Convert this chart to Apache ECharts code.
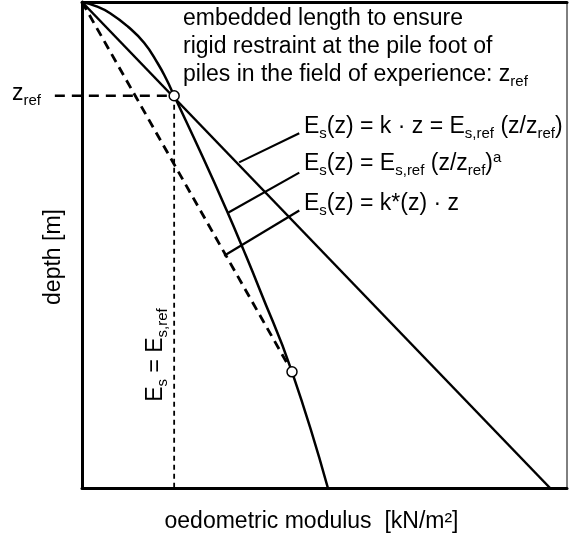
<!DOCTYPE html>
<html>
<head>
<meta charset="utf-8">
<script src="https://cdn.jsdelivr.net/npm/echarts@6/dist/echarts.min.js"></script>
<style>
  html, body { margin: 0; padding: 0; background: #fff; }
  #main { width: 569px; height: 540px; }
</style>
</head>
<body>
<div id="main"></div>
<script>
// axes run 0..100 in both directions (schematic, no ticks)
var straightLine = [[0, 0], [96.5, 100]];                 // Es = k * z
var powerCurve = [[0, 0], [3.0, 0.9], [5.8, 2.3], [9.5, 5.1], [12.8, 8.4], [15.6, 12.6],
                  [17.4, 15.9], [19.0, 19.3], [24.9, 31.9], [29.8, 42.8], [33.3, 51.0],
                  [36.7, 59.3], [43.3, 76.1], [50.7, 100]]; // Es,ref (z/zref)^a
var dashedLine = [[0, 0], [43.3, 76.1]];                  // k*(z) * z
var refPoint = [19.0, 19.3];
var lowerPoint = [43.3, 76.1];
var zrefGuide = [[-5.6, 19.3], [19.0, 19.3]];
var esrefGuide = [[19.0, 19.3], [19.0, 100]];
var leaders = [
    [[32.4, 33.0], [44.8, 27.0]],
    [[30.2, 43.3], [44.8, 35.1]],
    [[29.3, 52.2], [44.8, 42.9]]
];

var font = 'Liberation Sans';
var black = '#000';

var myChart = echarts.init(document.getElementById('main'));

var rich = {
    m: { fontSize: 23, fontFamily: font, color: black, lineHeight: 28 },
    s: { fontSize: 15, fontFamily: font, color: black, lineHeight: 15, verticalAlign: 'bottom' },
    p: { fontSize: 15, fontFamily: font, color: black, lineHeight: 20, verticalAlign: 'top' }
};

function lineSeries(data, width, dash) {
    return {
        type: 'line',
        data: data,
        symbol: 'none',
        clip: false,
        silent: true,
        lineStyle: { color: black, width: width, type: dash || 'solid' }
    };
}

function label(text, x, y, rotation) {
    return {
        type: 'text',
        x: x,
        y: y,
        rotation: rotation || 0,
        style: {
            text: text,
            rich: rich,
            fontSize: 23,
            fontFamily: font,
            fill: black,
            align: rotation ? 'center' : 'left',
            verticalAlign: 'middle'
        }
    };
}

var series = [
    lineSeries(straightLine, 2.5),
    Object.assign(lineSeries(powerCurve, 2.5), { smooth: 0.5 }),
    lineSeries(dashedLine, 2.8, [9, 6]),
    lineSeries(esrefGuide, 1.8, [5, 4])
];
leaders.forEach(function (l) {
    series.push(lineSeries(l, 2.2));
});
series.push({
    type: 'scatter',
    data: [refPoint, lowerPoint],
    symbol: 'circle',
    symbolSize: 10,
    z: 10,
    silent: true,
    itemStyle: { color: '#fff', borderColor: black, borderWidth: 1.5, opacity: 1 }
});

myChart.setOption({
    animation: false,
    grid: {
        left: 82, top: 2, width: 485, height: 486,
        show: true, borderColor: black, borderWidth: 1
    },
    xAxis: [{
        type: 'value', min: 0, max: 100,
        axisLine: { show: true, onZero: false, lineStyle: { color: black, width: 3 } },
        axisTick: { show: false }, axisLabel: { show: false }, splitLine: { show: false },
        name: 'oedometric modulus  [kN/m²]',
        nameLocation: 'middle',
        nameGap: 22,
        nameTextStyle: { fontSize: 23, fontFamily: font, color: black, padding: [0, 26, 0, 0] }
    }, {
        type: 'value', min: 0, max: 100, position: 'top',
        axisLine: { show: true, onZero: false, lineStyle: { color: black, width: 3 } },
        axisTick: { show: false }, axisLabel: { show: false }, splitLine: { show: false }
    }],
    yAxis: {
        type: 'value', min: 0, max: 100, inverse: true,
        axisLine: { show: true, onZero: false, lineStyle: { color: black, width: 3 } },
        axisTick: { show: false }, axisLabel: { show: false }, splitLine: { show: false }
    },
    series: series
});

// z_ref guide reaches left of the axis, so it is placed through the grid's scale
var g0 = myChart.convertToPixel({ gridIndex: 0 }, zrefGuide[0]);
var g1 = myChart.convertToPixel({ gridIndex: 0 }, zrefGuide[1]);

myChart.setOption({
    graphic: [
        {
            type: 'line',
            shape: { x1: g0[0], y1: g0[1], x2: g1[0], y2: g1[1] },
            style: { stroke: black, lineWidth: 2.5, lineDash: [10, 7] },
            z: 5
        },
        label('{m|embedded length to ensure}\n{m|rigid restraint at the pile foot of}\n{m|piles in the field of experience: z}{s|ref}', 183, 47),
        label('{m|E}{s|s}{m|(z) = k · z = E}{s|s,ref}{m| (z/z}{s|ref}{m|)}', 304, 127),
        label('{m|E}{s|s}{m|(z) = E}{s|s,ref}{m| (z/z}{s|ref}{m|)}{p|a}', 304, 164),
        label('{m|E}{s|s}{m|(z) = k*(z) · z}', 304, 204),
        label('{m|z}{s|ref}', 12, 94),
        label('{m|depth [m]}', 54, 257, Math.PI / 2),
        label('{m|E}{s|s}{m| = E}{s|s,ref}', 156, 355, Math.PI / 2)
    ]
});
</script>
</body>
</html>
